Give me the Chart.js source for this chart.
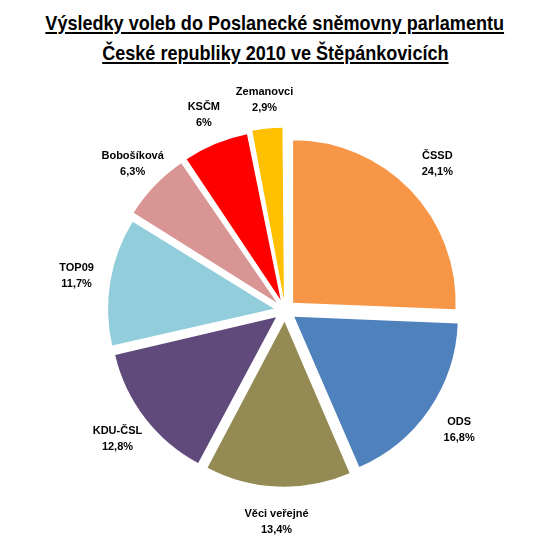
<!DOCTYPE html><html><head><meta charset="utf-8">
<script src="https://cdn.jsdelivr.net/npm/chart.js@4"></script>
<style>body{margin:0;background:#fff;width:550px;height:551px;overflow:hidden}
#t{font-family:"Liberation Sans",sans-serif;font-weight:bold;font-size:21px;text-align:center;line-height:30px;padding-top:8px;height:70px;box-sizing:border-box;color:#000;white-space:nowrap}
#t span{display:inline-block;transform:scaleX(0.86);text-decoration:underline}
</style></head><body>
<div id="t"><span>Výsledky voleb do Poslanecké sněmovny parlamentu</span><br><span>České republiky 2010 ve Štěpánkovicích</span></div>
<div style="width:550px;height:481px"><canvas id="c"></canvas></div>
<script>
const categories=["ČSSD","ODS","Věci veřejné","KDU-ČSL","TOP09","Bobošíková","KSČM","Zemanovci"];
const values=[24.1,16.8,13.4,12.8,11.7,6.3,6,2.9];
const valueLabels=["24,1%","16,8%","13,4%","12,8%","11,7%","6,3%","6%","2,9%"];
const colors=["#F79646","#4F81BD","#948A54","#604A7B","#92CDDC","#D99594","#FF0000","#FFC000"];
const labelPlugin={id:"lbl",afterDatasetsDraw(chart){
 const ctx=chart.ctx;const meta=chart.getDatasetMeta(0);
 ctx.save();ctx.font='bold 11px "Liberation Sans", sans-serif';ctx.fillStyle="#000";ctx.textAlign="center";ctx.textBaseline="middle";
 meta.data.forEach((a,i)=>{const m=(a.startAngle+a.endAngle)/2;const r=a.outerRadius*1.3;
  const x=a.x+Math.cos(m)*r,y=a.y+Math.sin(m)*r;
  ctx.fillText(categories[i],x,y-8);ctx.fillText(valueLabels[i],x,y+8);});
 ctx.restore();}};
new Chart(document.getElementById("c"),{type:"pie",
 data:{labels:categories,datasets:[{data:values,backgroundColor:colors,borderWidth:0,offset:45,hoverOffset:45}]},
 options:{responsive:true,maintainAspectRatio:false,animation:false,
  layout:{padding:{left:100,right:80,top:55,bottom:55}},
  plugins:{legend:{display:false},tooltip:{enabled:false}}},
 plugins:[labelPlugin]});
</script></body></html>
